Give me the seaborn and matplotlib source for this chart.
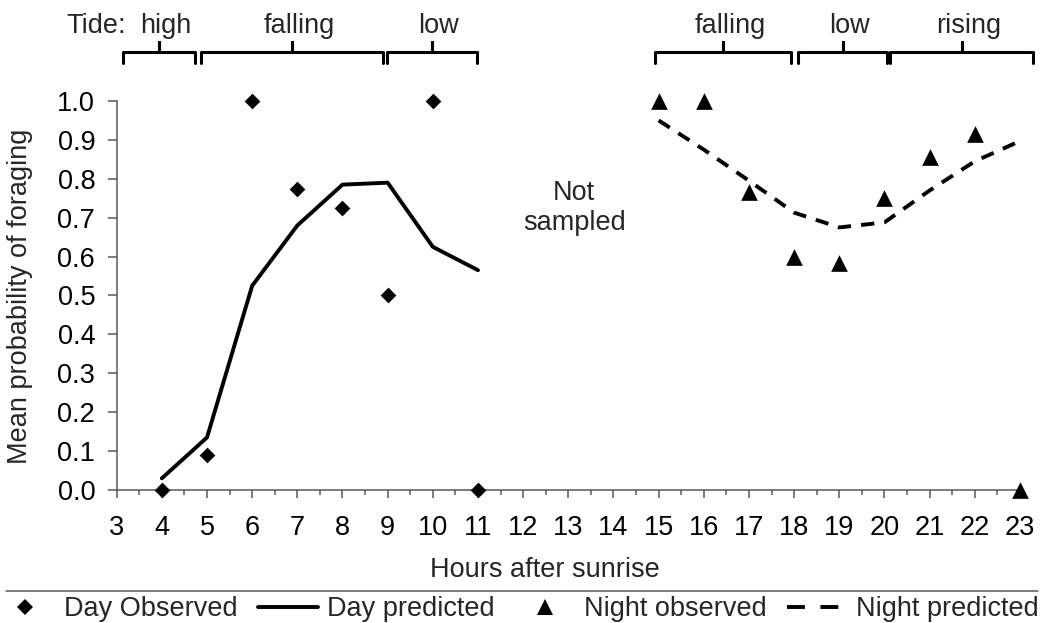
import matplotlib
matplotlib.use('Agg')
import matplotlib.pyplot as plt
from matplotlib.lines import Line2D
from matplotlib.ticker import MultipleLocator, FormatStrFormatter
import pandas as pd
import seaborn as sns

# data
day_hours = [4, 5, 6, 7, 8, 9, 10, 11]
day_observed = [0.0, 0.09, 1.0, 0.775, 0.725, 0.5, 1.0, 0.0]
day_predicted = [0.03, 0.135, 0.525, 0.68, 0.785, 0.79, 0.625, 0.565]

night_hours = [15, 16, 17, 18, 19, 20, 21, 22, 23]
night_observed = [1.0, 1.0, 0.765, 0.60, 0.583, 0.75, 0.857, 0.915, 0.0]
night_predicted = [0.95, 0.875, 0.795, 0.713, 0.675, 0.688, 0.77, 0.845, 0.897]

# tide phases (hours after sunrise)
tide_labels = ['high', 'falling', 'low', 'falling', 'low', 'rising']
tide_start = [3.13, 4.87, 8.99, 14.92, 18.09, 20.13]
tide_end = [4.73, 8.90, 10.98, 17.93, 20.06, 23.29]

legend_labels = ['Day Observed', 'Day predicted', 'Night observed', 'Night predicted']

sns.set_style('ticks')
plt.rcParams['font.family'] = ['Liberation Sans', 'DejaVu Sans']
FS = 19.5
AXC = '#595959'
LW = 2.8

df_day = pd.DataFrame({'hour': day_hours, 'observed': day_observed, 'predicted': day_predicted})
df_night = pd.DataFrame({'hour': night_hours, 'observed': night_observed, 'predicted': night_predicted})

fig = plt.figure(figsize=(10.51, 6.23), dpi=100)
ax = fig.add_axes([0.111, 0.2135, 0.8595, 0.6244])

sns.lineplot(data=df_day, x='hour', y='predicted', color='black', lw=LW,
             errorbar=None, ax=ax, clip_on=False)
sns.lineplot(data=df_night, x='hour', y='predicted', color='black', lw=LW,
             ls=(0, (3.4, 2.6)), errorbar=None, ax=ax, clip_on=False)
sns.scatterplot(data=df_day, x='hour', y='observed', marker='D', s=64, color='black',
                linewidth=0, ax=ax, clip_on=False, zorder=3)
sns.scatterplot(data=df_night, x='hour', y='observed', marker='^', s=144, color='black',
                linewidth=0, ax=ax, clip_on=False, zorder=3)

ax.set_xlim(3, 23)
ax.set_ylim(0, 1)
ax.xaxis.set_major_locator(MultipleLocator(1))
ax.xaxis.set_minor_locator(MultipleLocator(0.5))
ax.yaxis.set_major_locator(MultipleLocator(0.1))
ax.yaxis.set_major_formatter(FormatStrFormatter('%.1f'))
ax.set_xlabel('')
ax.set_ylabel('')
sns.despine(ax=ax)
for s in ['left', 'bottom']:
    ax.spines[s].set_color(AXC)
    ax.spines[s].set_linewidth(1.1)
ax.tick_params(axis='x', which='major', length=5.8, width=1.1, color=AXC,
               labelsize=FS, labelcolor='black', pad=12)
ax.tick_params(axis='x', which='minor', length=3.6, width=1.1, color=AXC)
ax.tick_params(axis='y', which='major', length=6.5, width=1.1, color=AXC,
               labelsize=FS, labelcolor='black', pad=9)

fig.text(0.5186, 0.0743, 'Hours after sunrise', ha='center', va='baseline', fontsize=FS)
fig.text(0.019, 0.525, 'Mean probability of foraging', ha='center', va='center',
         rotation=90, fontsize=FS)
ax.text(13.13, 0.725, 'Not\nsampled', ha='center', va='center', fontsize=FS, linespacing=1.2)

# tide brackets above the plot
tr = ax.get_xaxis_transform()
y_h, y_end, y_tick, y_txt = 1.126, 1.098, 1.152, 1.175
ax.text(2.54, y_txt, 'Tide:', ha='center', va='baseline', fontsize=FS, transform=tr, clip_on=False)
for lab, x0, x1 in zip(tide_labels, tide_start, tide_end):
    xm = (x0 + x1) / 2
    ax.add_line(Line2D([x0, x0, xm, xm, xm, x1, x1],
                       [y_end, y_h, y_h, y_tick, y_h, y_h, y_end],
                       transform=tr, color='black', lw=2.2, clip_on=False,
                       solid_joinstyle='round', solid_capstyle='round'))
    ax.text(xm + 0.15, y_txt, lab, ha='center', va='baseline', fontsize=FS,
            transform=tr, clip_on=False)

# legend under a separator line
fig.add_artist(Line2D([0.006, 0.988], [0.0514, 0.0514], transform=fig.transFigure,
                      color=AXC, lw=1.1))
handles = [
    Line2D([], [], marker='D', color='black', ls='none', markersize=8, markeredgewidth=0),
    Line2D([], [], color='black', lw=LW),
    Line2D([], [], marker='^', color='black', ls='none', markersize=12, markeredgewidth=0),
    Line2D([], [], color='black', lw=LW, ls=(0, (4.6, 4.0))),
]
fig.legend(handles, legend_labels, loc='center', bbox_to_anchor=(0.492, 0.0225), ncol=4,
           frameon=False, fontsize=FS, handlelength=2.2, handletextpad=0.35,
           columnspacing=0.75, borderpad=0, borderaxespad=0)

fig.savefig('out.png', dpi=100)
